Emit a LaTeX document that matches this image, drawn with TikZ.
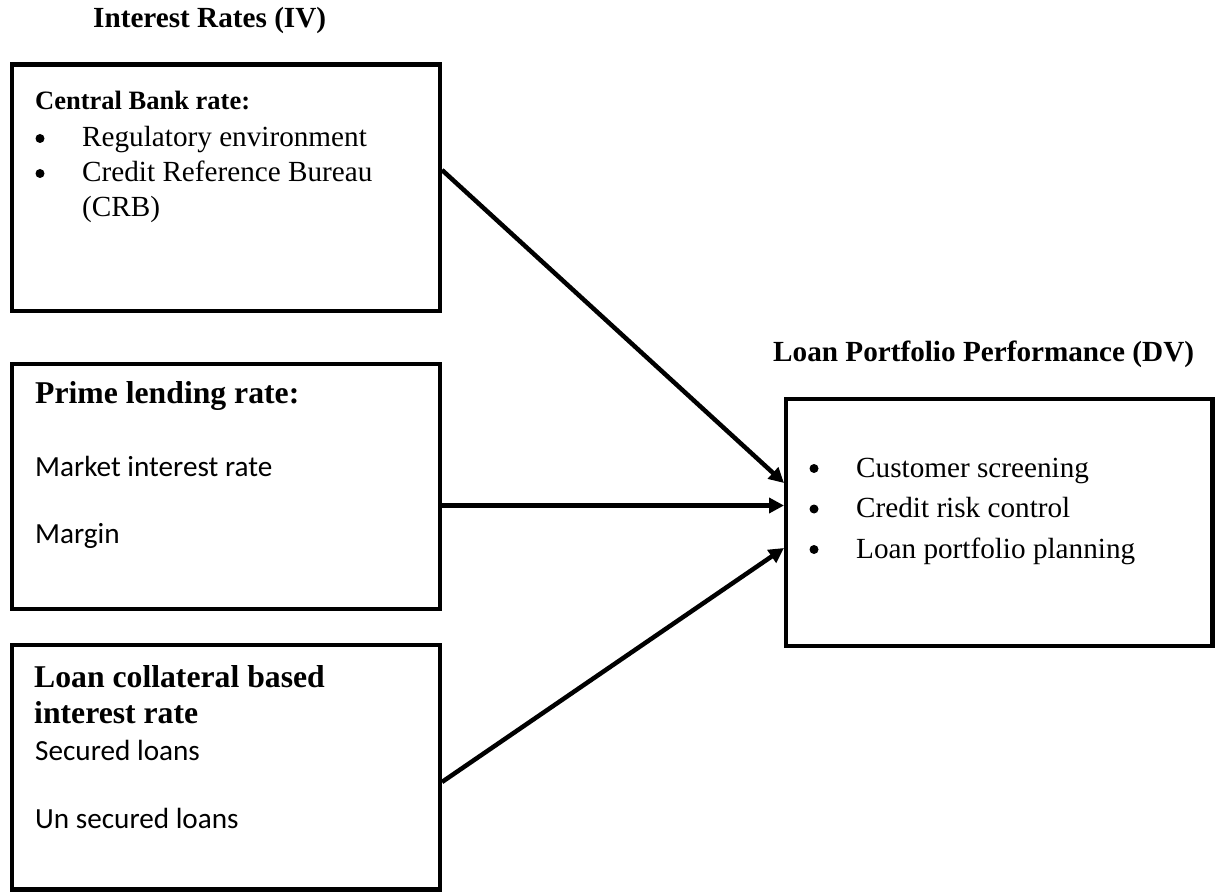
\documentclass[tikz,border=0pt]{standalone}
\usepackage{fontspec}
\setmainfont{Liberation Serif}
\newfontfamily\calfont{Carlito}
\usetikzlibrary{arrows.meta}
\tikzset{
  box/.style={draw=black, line width=4.5pt},
  conn/.style={line width=4.5pt, -{Triangle[length=15pt,width=15pt]}},
  txt/.style={anchor=base west, inner sep=0pt, font=\fontsize{29.2}{35}\selectfont},
  btxt/.style={anchor=base west, inner sep=0pt, font=\fontsize{29.2}{35}\selectfont\bfseries},
  cbtxt/.style={anchor=base west, inner sep=0pt, font=\fontsize{26.5}{32}\selectfont\bfseries},
  bigtxt/.style={anchor=base west, inner sep=0pt, font=\fontsize{31.7}{38}\selectfont\bfseries},
  caltxt/.style={anchor=base west, inner sep=0pt, font=\fontsize{29.2}{35}\selectfont\calfont},
  bul/.style={circle, fill=black, inner sep=0pt, minimum size=9pt}
}
\begin{document}
\begin{tikzpicture}[x=1pt, y=-1pt]
\useasboundingbox (0,0) rectangle (1216,893);
% boxes
\draw[box] (12,64.5) rectangle (440,311);
\draw[box] (12,364) rectangle (440,609);
\draw[box] (12,645) rectangle (440,889.5);
\draw[box] (786,399) rectangle (1212.5,646);
% anchors on box edges
\coordinate (b1) at (442,170);
\coordinate (b2) at (442,505.5);
\coordinate (b3) at (442,782);
\coordinate (d1) at (784,483);
\coordinate (d2) at (784,505.5);
\coordinate (d3) at (784,548);
% titles
\node[btxt] (t1) at (93,28) {Interest Rates (IV)};
\node[btxt] (t2) at (773,362) {Loan Portfolio Performance (DV)};
% box 1
\node[cbtxt] (c1) at (35,110) {Central Bank rate:};
\node[bul] (c1b1) at (40,138.5) {};
\node[txt] (c1t1) at (82,147) {Regulatory environment};
\node[bul] (c1b2) at (40,173.5) {};
\node[txt] (c1t2) at (82,182) {Credit Reference Bureau};
\node[txt] (c1t3) at (82,217) {(CRB)};
% box 2
\node[bigtxt] (p1) at (35,403) {Prime lending rate:};
\node[caltxt] (p2) at (35,476) {Market interest rate};
\node[caltxt] (p3) at (35,543) {Margin};
% box 3
\node[bigtxt] (l1) at (34,687) {Loan collateral based};
\node[bigtxt] (l2) at (34,723) {interest rate};
\node[caltxt] (l3) at (35,760) {Secured loans};
\node[caltxt] (l4) at (35,828) {Un secured loans};
% DV box
\node[bul] (db1) at (814,468.5) {};
\node[txt] (dt1) at (856,477) {Customer screening};
\node[bul] (db2) at (814,509) {};
\node[txt] (dt2) at (856,517) {Credit risk control};
\node[bul] (db3) at (814,549.5) {};
\node[txt] (dt3) at (856,558) {Loan portfolio planning};
% connectors
\draw[conn] (b1) -- (d1);
\draw[conn] (b2) -- (d2);
\draw[conn] (b3) -- (d3);
\end{tikzpicture}
\end{document}
